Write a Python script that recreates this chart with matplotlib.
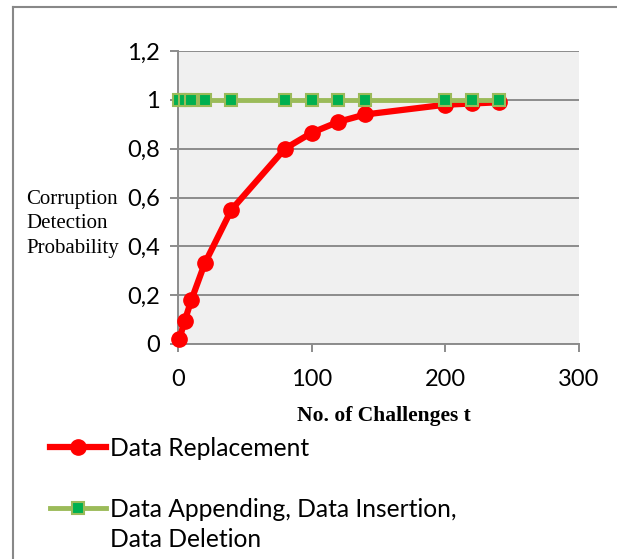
import matplotlib
matplotlib.use("Agg")
import matplotlib.pyplot as plt
from matplotlib.lines import Line2D

# ---- data ----
challenges = [1, 5, 10, 20, 40, 80, 100, 120, 140, 200, 220, 240]
replacement = [0.02, 0.095, 0.18, 0.33, 0.55, 0.80, 0.865, 0.91, 0.94, 0.98, 0.985, 0.99]
append_insert_delete = [1, 1, 1, 1, 1, 1, 1, 1, 1, 1, 1, 1]
y_ticks = [0, 0.2, 0.4, 0.6, 0.8, 1.0, 1.2]
y_tick_labels = ["0", "0,2", "0,4", "0,6", "0,8", "1", "1,2"]
x_ticks = [0, 100, 200, 300]
x_tick_labels = ["0", "100", "200", "300"]
ylabel_lines = ["Corruption", "Detection", "Probability"]
xlabel = "No. of Challenges t"
label_red = "Data Replacement"
label_green_1 = "Data Appending, Data Insertion,"
label_green_2 = "Data Deletion"

W, H = 617, 559
fig = plt.figure(figsize=(W / 100, H / 100), dpi=100)
fig.patch.set_facecolor("white")

sans = ["Lato", "DejaVu Sans"]
serif = ["Liberation Serif", "DejaVu Serif"]
grid_c = "#8c8c8c"

ax = fig.add_axes([178 / W, 1 - 344 / H, (579 - 178) / W, (344 - 51) / H])
ax.set_facecolor("#f0f0f0")

ax.plot(challenges, append_insert_delete, color="#9bbb59", lw=3.5, marker="s",
        markersize=8, markerfacecolor="#00b050", markeredgecolor="#9bbb59",
        markeredgewidth=1.5, zorder=4, clip_on=False)
ax.plot(challenges, replacement, color="#ff0000", lw=4.5, marker="o",
        markersize=11, markerfacecolor="#ff0000", markeredgecolor="#ff0000",
        zorder=3, clip_on=False)

ax.set_xlim(0, 300)
ax.set_ylim(0, 1.2)
ax.set_xticks(x_ticks)
ax.set_xticklabels(x_tick_labels, fontfamily=sans, fontsize=17)
ax.set_yticks(y_ticks)
ax.set_yticklabels(y_tick_labels, fontfamily=sans, fontsize=17)

for s in ["top", "right"]:
    ax.spines[s].set_visible(False)
for s in ["left", "bottom"]:
    ax.spines[s].set_color(grid_c)
    ax.spines[s].set_linewidth(1.4)
ax.yaxis.grid(True, color=grid_c, lw=1.4)
ax.set_axisbelow(True)
ax.tick_params(axis="y", length=6, width=1.4, color=grid_c, pad=7)
ax.tick_params(axis="x", length=6, width=1.4, color=grid_c, pad=12)

for i, line in enumerate(ylabel_lines):
    fig.text(26 / W, 1 - (204 + 24.5 * i) / H, line, fontfamily=serif,
             fontsize=15, ha="left", va="baseline")
fig.text(384 / W, 1 - 421 / H, xlabel, fontfamily=serif,
         fontweight="bold", fontsize=15.5, ha="center", va="baseline")

# outer frame
fig.add_artist(Line2D([13 / W, 1], [1 - 7 / H, 1 - 7 / H], transform=fig.transFigure,
                      color="#888888", lw=1.5))
fig.add_artist(Line2D([13 / W, 13 / W], [0, 1 - 7 / H], transform=fig.transFigure,
                      color="#888888", lw=1.5))

# legend
h_red = Line2D([], [], color="#ff0000", lw=4.5, marker="o", markersize=11)
h_green = Line2D([], [], color="#9bbb59", lw=3.5, marker="s", markersize=8,
                 markerfacecolor="#00b050", markeredgecolor="#9bbb59", markeredgewidth=1.5)
h_blank = Line2D([], [], linestyle="none")
leg = fig.legend([h_red, h_blank, h_green, h_blank],
                 [label_red, " ", label_green_1, label_green_2],
                 loc="upper left", bbox_to_anchor=(50 / W, 1 - 437 / H),
                 frameon=False, prop={"family": sans, "size": 17.7},
                 handlelength=2.28, handletextpad=0.18, labelspacing=0.3,
                 borderpad=0, borderaxespad=0)

fig.savefig("out.png", dpi=100)
